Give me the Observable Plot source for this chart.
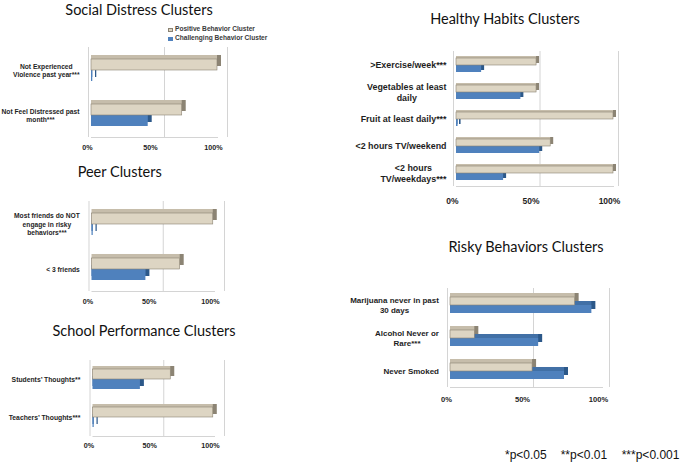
<!DOCTYPE html>
<html><head><meta charset="utf-8">
<script src="https://cdn.jsdelivr.net/npm/d3@7"></script>
<script src="https://cdn.jsdelivr.net/npm/@observablehq/plot@0.6"></script>
<style>
body{margin:0;background:#fff}
#root{position:relative;width:685px;height:464px;overflow:hidden;background:#fff;font-family:"Liberation Sans",Arial,sans-serif}
.title{position:absolute;font-family:Lato,"Liberation Sans",sans-serif;font-size:14.5px;line-height:14.5px;color:#111;white-space:nowrap;transform:translateX(-50%)}
.panel{position:absolute}
.leg{position:absolute;font-size:6.6px;font-weight:bold;color:#3a3a3a;white-space:nowrap;line-height:7px}
.sw{display:inline-block;width:5px;height:4px;margin-right:2px;vertical-align:-0.5px;box-sizing:border-box}
.foot{position:absolute;font-size:12px;color:#111;white-space:nowrap;line-height:12px}
</style></head><body><div id="root"></div>
<script>
// ---- data ----
const seriesNames = ["Positive Behavior Cluster", "Challenging Behavior Cluster"];
const xTicks = [0, 50, 100];

const socialCategories = ["Not Experienced\nViolence past year***", "Not Feel Distressed past\nmonth***"];
const socialPositive = [100, 72];
const socialChallenging = [1, 45];

const peerCategories = ["Most friends do NOT\nengage in risky\nbehaviors***", "< 3 friends"];
const peerPositive = [99, 72];
const peerChallenging = [1, 44];

const schoolCategories = ["Students\u2019 Thoughts**", "Teachers\u2019 Thoughts***"];
const schoolPositive = [64, 99];
const schoolChallenging = [39, 1];

const healthCategories = [">Exercise/week***", "Vegetables at least\ndaily", "Fruit at least daily***", "<2 hours TV/weekend", "<2 hours\nTV/weekdays***"];
const healthPositive = [51, 51, 100, 60, 100];
const healthChallenging = [16, 41, 1, 53, 30];

const riskyCategories = ["Marijuana never in past\n30 days", "Alcohol Never or\nRare***", "Never Smoked"];
const riskyPositive = [82, 16, 54];
const riskyChallenging = [93, 58, 75];

const footnotes = ["*p<0.05", "**p<0.01", "***p<0.001"];

// ---- styles ----
const C = {
  posFront: "#ddd5c3", posStroke: "#8a8272", posTop: "#c6bdab", posSide: "#8c8474",
  chalFront: "#4f81bd", chalTop: "#4270a6", chalSide: "#2c5889",
  grid: "#d4d4d4", text: "#1e1e1e"
};
const FONT = "Liberation Sans";
const root = document.getElementById("root");
const ctx = document.createElement("canvas").getContext("2d");
function maxLineWidth(s, fs) {
  ctx.font = `bold ${fs}px "${FONT}"`;
  return Math.max(...s.split("\n").map(l => ctx.measureText(l).width));
}

function addTitle(text, cx, baseline) {
  const d = document.createElement("div");
  d.className = "title"; d.textContent = text;
  d.style.left = cx + "px"; d.style.top = (baseline - 10.4) + "px";
  root.appendChild(d);
}

function makePanel(p) {
  const n = p.categories.length;
  const frameTop = p.c1 - p.pitch / 2;
  const mt = 18, mb = 24;
  const L = p.left;
  const W = p.front100 - L + 30;
  const H = mt + n * p.pitch + mb;
  const rows = p.categories.flatMap((c, i) => [
    {category: c, series: seriesNames[0], value: p.positive[i]},
    {category: c, series: seriesNames[1], value: p.challenging[i]}
  ]);
  const pos = rows.filter(r => r.series === seriesNames[0]);
  const chal = rows.filter(r => r.series === seriesNames[1]);
  const padOuter = (p.pitch - 2 * p.barH) / (2 * p.barH);
  const frameBottom = frameTop + n * p.pitch;
  const tickPadding = p.labelY - frameBottom - 0.35 * p.tickFs;
  const bar = (data, fill, extra) => Plot.barX(data, {x: "value", y: "series", fy: "category", fill, ...extra});
  const labelMarks = p.categories.map(c => Plot.text([c], {
    fy: d => d, text: d => d, frameAnchor: "left", textAnchor: "middle",
    dx: p.labelRight - maxLineWidth(c, p.labelFs) / 2 - p.front0,
    fontSize: p.labelFs, fontWeight: "bold", lineHeight: p.lineHeight, fill: C.text
  }));
  const chart = Plot.plot({
    width: W, height: H,
    marginLeft: p.front0 - L, marginRight: 30, marginTop: mt, marginBottom: mb,
    style: {fontFamily: FONT, background: "transparent", overflow: "visible"},
    x: {domain: [0, 100], axis: null},
    y: {domain: seriesNames, paddingInner: 0, paddingOuter: padOuter, axis: null},
    fy: {domain: p.categories, padding: 0, axis: null},
    marks: [
      Plot.ruleX([0], {stroke: C.grid, dx: -3}),
      Plot.ruleX([50, 100], {stroke: C.grid, dx: p.back}),
      Plot.frame({anchor: "bottom", facetAnchor: "bottom", stroke: C.grid}),
      bar(chal, C.chalSide, {dx: p.dx3, dy: -p.dy3}),
      bar(chal, C.chalTop, {dy: -p.dy3}),
      bar(pos, C.posSide, {dx: p.dx3, dy: -p.dy3}),
      bar(pos, C.posTop, {dy: -p.dy3}),
      bar(chal, C.chalFront, {}),
      bar(pos, C.posFront, {stroke: C.posStroke, strokeWidth: 0.6}),
      ...labelMarks,
      Plot.axisX({ticks: xTicks, tickFormat: d => d + "%", tickSize: 0, tickPadding, fontSize: p.tickFs, fontWeight: "bold", fill: C.text, dx: -4, label: null})
    ]
  });
  chart.classList.add("panel");
  chart.style.left = L + "px";
  chart.style.top = (frameTop - mt) + "px";
  root.appendChild(chart);
  addTitle(p.title, p.titleX, p.titleBase);
}

makePanel({title: "Social Distress Clusters", categories: socialCategories, positive: socialPositive, challenging: socialChallenging,
  left: 0, front0: 91, front100: 217, c1: 68.5, pitch: 45.5, barH: 11.5, labelY: 147, labelRight: 79, labelFs: 6.7, lineHeight: 1.25,
  tickFs: 7.2, dx3: 4, dy3: 4, back: 10, titleX: 139, titleBase: 13.3});
makePanel({title: "Peer Clusters", categories: peerCategories, positive: peerPositive, challenging: peerChallenging,
  left: 0, front0: 91.5, front100: 214, c1: 222.7, pitch: 45.6, barH: 11.6, labelY: 300.7, labelRight: 79.3, labelFs: 6.7, lineHeight: 1.25,
  tickFs: 7.2, dx3: 4, dy3: 4, back: 10, titleX: 119.7, titleBase: 175});
makePanel({title: "School Performance Clusters", categories: schoolCategories, positive: schoolPositive, challenging: schoolChallenging,
  left: 0, front0: 92.5, front100: 214, c1: 378.7, pitch: 38, barH: 10.3, labelY: 445, labelRight: 80, labelFs: 6.8, lineHeight: 1.25,
  tickFs: 7.2, dx3: 4, dy3: 3, back: 10, titleX: 144, titleBase: 334});
makePanel({title: "Healthy Habits Clusters", categories: healthCategories, positive: healthPositive, challenging: healthChallenging,
  left: 330, front0: 456, front100: 613, c1: 64, pitch: 27.5, barH: 7.5, labelY: 201.7, labelRight: 446, labelFs: 8.9, lineHeight: 1.2,
  tickFs: 8.5, dx3: 3, dy3: 2, back: 5, titleX: 505, titleBase: 22.7});
makePanel({title: "Risky Behaviors Clusters", categories: riskyCategories, positive: riskyPositive, challenging: riskyChallenging,
  left: 330, front0: 450, front100: 602, c1: 304, pitch: 33.85, barH: 9, labelY: 400, labelRight: 438.5, labelFs: 8, lineHeight: 1.15,
  tickFs: 7.6, dx3: 4, dy3: 4, back: 7, titleX: 526, titleBase: 250});

// legend
const legColors = [[C.posFront, C.posStroke], [C.chalFront, C.chalFront]];
seriesNames.forEach((s, i) => {
  const d = document.createElement("div");
  d.className = "leg";
  d.style.left = "168px"; d.style.top = (25 + i * 9) + "px";
  const sw = document.createElement("span");
  sw.className = "sw"; sw.style.background = legColors[i][0]; sw.style.border = `0.8px solid ${legColors[i][1]}`;
  d.appendChild(sw);
  d.appendChild(document.createTextNode(s));
  root.appendChild(d);
});

// footnote
const footX = [505, 560.7, 621.7];
footnotes.forEach((t, i) => {
  const d = document.createElement("div");
  d.className = "foot"; d.textContent = t;
  d.style.left = footX[i] + "px"; d.style.top = "449px";
  root.appendChild(d);
});
</script></body></html>
